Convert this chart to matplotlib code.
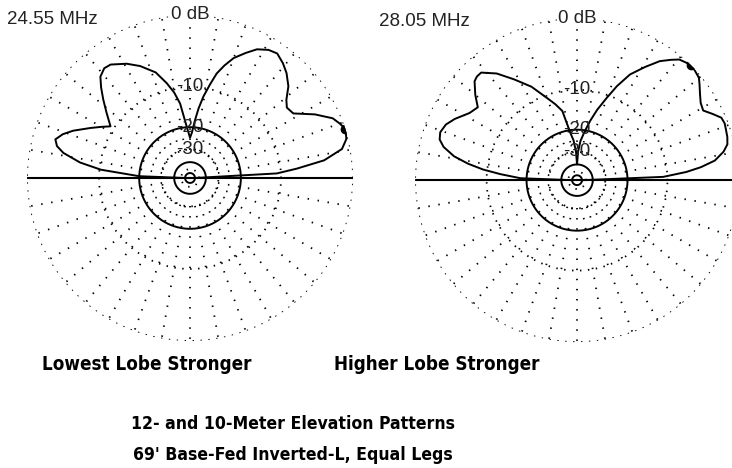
import numpy as np
import matplotlib
matplotlib.use('Agg')
import matplotlib.pyplot as plt

# --- данные: угол места (град) и усиление (дБ) ---
freq_left = '24.55 MHz'
elev_left = [0, 3, 5, 7.5, 10.8, 14, 17.5, 20, 22.7, 27, 32, 36, 39, 43, 47.4, 51, 55, 58.5,
             62.5, 66, 70, 73, 75.7, 78, 80.7, 83, 85, 87.7, 90, 93.7, 97.6, 100.5, 103.8, 108,
             114, 119, 125, 128, 131.5, 134.5, 137.9, 142, 147, 150, 153.4, 158, 161, 164,
             166.5, 168.8, 172, 174.7, 178, 180]
gain_left = [-60, -10.8, -7.2, -3.2, -0.9, -0.2, 0.0, -0.4, -0.9, -2.6, -5.0, -5.3, -4.7, -3.3, -2.3,
             -1.7, -1.2, -1.4, -2.0, -3.0, -4.2, -5.6, -7.1, -9.2, -11.7, -14.5, -17.6, -22.0,
             -24.0, -19.8, -13.3, -10.8, -8.8, -6.6, -4.9, -3.8, -2.8, -2.7, -3.2, -4.3, -5.7,
             -7.4, -9.3, -8.0, -6.5, -4.4, -3.3, -2.6, -3.0, -4.0, -6.6, -10.3, -20, -60]
peak_left = (17.5, 0.0)

freq_right = '28.05 MHz'
elev_right = [0, 2.2, 4.3, 6, 8.1, 11, 13.4, 16, 18.8, 21, 23.4, 26, 28.9, 32, 35, 38, 40, 43,
              45.4, 47.5, 49.7, 52, 55.2, 59, 63.4, 67, 70.2, 74, 77.5, 81, 85, 88, 90, 92, 95,
              98, 102, 106, 110, 116, 122, 127, 131.7, 134, 136, 140, 143.7, 148, 153.4, 157,
              160.7, 163.5, 166, 169, 171.4, 173.5, 175.5, 178, 180]
gain_right = [-60, -10.8, -6.7, -4.5, -2.6, -1.4, -0.8, -0.6, -0.5, -0.4, -0.5, -1.2, -2.0, -1.8,
              -1.3, -0.7, -0.3, -0.1, 0.0, -0.2, -0.4, -1.0, -1.9, -3.5, -5.4, -7.9, -10.6,
              -13.6, -16.8, -20.3, -24.3, -30, -40, -30, -24, -21, -14.2, -12.3, -10.6, -7.6,
              -5.3, -3.3, -2.0, -2.0, -2.2, -3.4, -4.7, -4.2, -2.9, -2.2, -1.9, -2.1, -2.8,
              -4.4, -6.6, -9.2, -12.8, -18, -60]
peak_right = (45.4, 0.0)

ring_db = [0, -10, -20, -30, -40, -50, -60]
ring_solid = [False, False, True, False, True, False, True]
ring_labels = ['0 dB', '-10', '-20', '-30']

caption_left = 'Lowest Lobe Stronger'
caption_right = 'Higher Lobe Stronger'
title_lines = ['12- and 10-Meter Elevation Patterns', "69' Base-Fed Inverted-L, Equal Legs"]

fonts_small = ['Liberation Sans', 'DejaVu Sans']


def arrl(db):
    ''' Шкала ARRL: 0.89 на каждые 2 дБ '''
    return 0.89 ** (-np.asarray(db, dtype=float) / 2.0)


def draw_pattern(ax, elev, gain, peak):
    full = np.linspace(0, 2 * np.pi, 721)
    for db, solid in zip(ring_db, ring_solid):
        r = arrl(db)
        if solid:
            ax.plot(full, np.full_like(full, r), color='black', lw=1.4)
        else:
            ax.plot(full, np.full_like(full, r), color='black', lw=1.3,
                    linestyle=(0, (0.8, 3.6)))
    # радиальные линии сетки
    for a in range(10, 360, 10):
        if a == 180:
            continue
        t = np.radians(a)
        ax.plot([t, t], [arrl(-30), 1.0], color='black', lw=1.3, linestyle=(0, (0.8, 4.8)))
    # горизонт
    ax.plot([0, 0], [0, 1.0], color='black', lw=1.5)
    ax.plot([np.pi, np.pi], [0, 1.0], color='black', lw=1.5)

    ax.plot(np.radians(elev), arrl(gain), color='black', lw=1.4)
    ax.plot(np.radians(peak[0]), arrl(peak[1]), 'o', color='black', ms=6)

    ax.set_ylim(0, 1.0)
    ax.set_xticks([])
    ax.set_yticks([])
    ax.grid(False)
    ax.spines['polar'].set_visible(False)

    for lab, db in zip(ring_labels, ring_db):
        ax.text(np.pi / 2, arrl(db), lab, ha='center', va='center', fontsize=13.5,
                family=fonts_small, color='#222222',
                bbox=dict(facecolor='white', edgecolor='none', pad=0.3) if db == 0 else None)


fig = plt.figure(figsize=(7.32, 4.68), dpi=100)
fig.patch.set_facecolor('white')

ax1 = fig.add_axes([0.0369, 0.2714, 0.4454, 0.6966], projection='polar')
ax2 = fig.add_axes([0.567, 0.269, 0.4426, 0.692], projection='polar')
draw_pattern(ax1, elev_left, gain_left, peak_left)
draw_pattern(ax2, elev_right, gain_right, peak_right)

fig.text(7 / 732, 1 - 20 / 468, freq_left, ha='left', va='center', fontsize=13.5,
         family=fonts_small, color='#222222')
fig.text(379 / 732, 1 - 22 / 468, freq_right, ha='left', va='center', fontsize=13.5,
         family=fonts_small, color='#222222')

# подписи
big = dict(ha='center', va='center', fontweight='bold', family=['DejaVu Sans'],
           fontstretch='condensed')
fig.text(147 / 732, 1 - 365 / 468, caption_left, fontsize=13.5, **big)
fig.text(437 / 732, 1 - 365 / 468, caption_right, fontsize=13.5, **big)
fig.text(293 / 732, 1 - 424 / 468, title_lines[0], fontsize=12.6, **big)
fig.text(293 / 732, 1 - 455 / 468, title_lines[1], fontsize=12.6, **big)

fig.savefig('out.png', dpi=100, facecolor='white')
